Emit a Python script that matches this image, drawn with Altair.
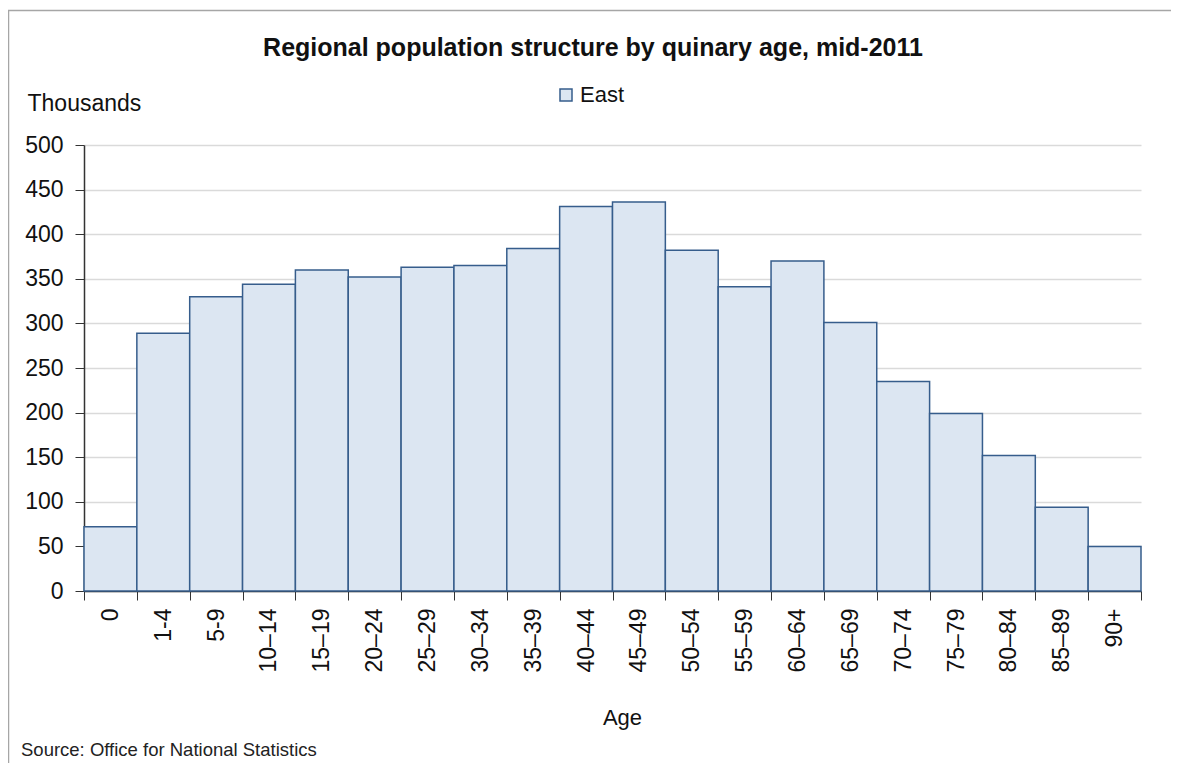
import altair as alt
import pandas as pd

ages = ["0", "1-4", "5-9", "10–14", "15–19", "20–24", "25–29", "30–34", "35–39",
        "40–44", "45–49", "50–54", "55–59", "60–64", "65–69", "70–74", "75–79",
        "80–84", "85–89", "90+"]
east = [72, 289, 330, 344, 360, 352, 363, 365, 384, 431, 436, 382, 341, 370,
        301, 235, 199, 152, 94, 50]
y_ticks = [0, 50, 100, 150, 200, 250, 300, 350, 400, 450, 500]

df = pd.DataFrame({"age": ages, "value": east, "region": ["East"] * len(ages)})
one = pd.DataFrame({"k": [0]})

FONT = "Liberation Sans"
FILL = "#dce6f2"
STROKE = "#365d8c"
TXT = "#111111"
FS = 23
W, H = 1057, 446

bars = alt.Chart(df).mark_bar(stroke=STROKE, strokeWidth=1.5, fillOpacity=1).encode(
    x=alt.X("age:N", sort=ages,
            scale=alt.Scale(paddingInner=0, paddingOuter=0),
            axis=alt.Axis(title="Age", labelAngle=-90, labelFontSize=FS, labelColor=TXT,
                          labelPadding=8, tickSize=9, tickBand="extent", tickColor="#333",
                          domainColor="#333", domainWidth=1.5, grid=False,
                          titleFontSize=22, titleFontWeight="normal", titleColor=TXT,
                          titleX=538, titleY=126, titleBaseline="middle")),
    y=alt.Y("value:Q", scale=alt.Scale(domain=[0, 500], nice=False),
            axis=alt.Axis(title="Thousands", values=y_ticks, labelFontSize=FS, labelColor=TXT,
                          labelPadding=12, tickSize=9, tickColor="#333", domainColor="#333",
                          domainWidth=1.5, gridColor="#dadada", gridWidth=1.3,
                          titleAngle=0, titleAlign="left", titleBaseline="middle",
                          titleX=-57, titleY=-42, titleFontSize=FS,
                          titleFontWeight="normal", titleColor=TXT)),
    color=alt.Color("region:N", scale=alt.Scale(domain=["East"], range=[FILL]),
                    legend=alt.Legend(title=None, orient="none", legendX=471, legendY=-61,
                                      symbolType="square", symbolSize=144,
                                      symbolStrokeColor=STROKE, symbolStrokeWidth=1.5,
                                      symbolFillColor=FILL,
                                      labelFontSize=FS - 1, labelColor=TXT, labelOffset=3,
                                      padding=0)),
)

frame = alt.Chart(one).mark_rect(fillOpacity=0, stroke="#a6a6a6", strokeWidth=1.5).encode(
    x=alt.value(-75.5), y=alt.value(-134.5), x2=alt.value(1400), y2=alt.value(1000)
)

title = alt.Chart(one).mark_text(text="Regional population structure by quinary age, mid-2011",
                                 font=FONT, fontSize=25, fontWeight="bold", color=TXT,
                                 align="center", baseline="middle").encode(
    x=alt.value(509), y=alt.value(-97)
)

source = alt.Chart(one).mark_text(text="Source: Office for National  Statistics",
                                  font=FONT, fontSize=18.5, color="#222222",
                                  align="left", baseline="middle").encode(
    x=alt.value(-63), y=alt.value(605)
)

chart = alt.layer(frame, bars, title, source).properties(
    width=W, height=H,
    autosize=alt.AutoSizeParams(type="none"),
    padding={"left": 76, "top": 137, "right": 30, "bottom": 172},
).configure(font=FONT).configure_view(stroke=None)

chart.save("out.html", embed_options={"renderer": "svg", "actions": False})
